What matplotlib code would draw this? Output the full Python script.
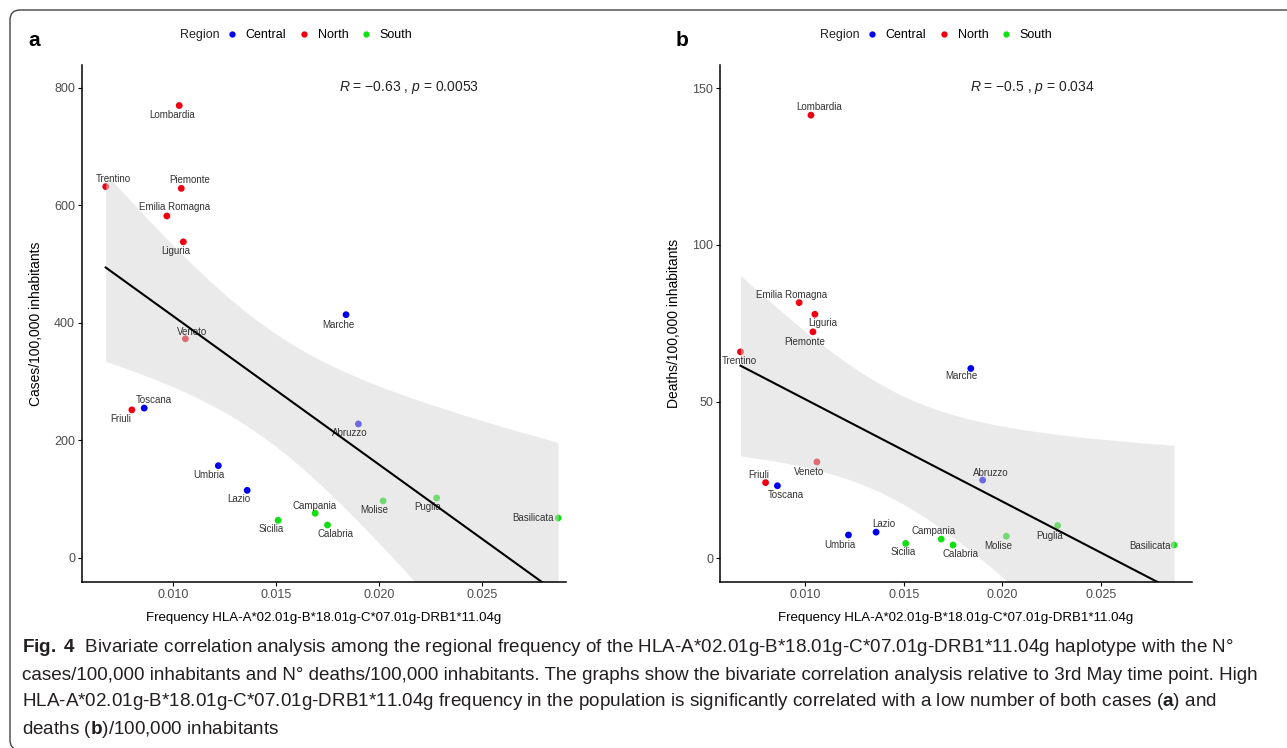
import numpy as np
import matplotlib.pyplot as plt
from matplotlib.patches import FancyBboxPatch
from matplotlib.lines import Line2D

plt.rcParams['font.family'] = ['Liberation Sans', 'DejaVu Sans']
plt.rcParams['mathtext.fontset'] = 'custom'
plt.rcParams['mathtext.rm'] = 'Liberation Sans'
plt.rcParams['mathtext.it'] = 'Liberation Sans:italic'
plt.rcParams['mathtext.bf'] = 'Liberation Sans:bold'

# regional data
regions = ['Lombardia', 'Trentino', 'Piemonte', 'Emilia Romagna', 'Liguria', 'Veneto', 'Friuli',
           'Marche', 'Toscana', 'Abruzzo', 'Umbria', 'Lazio',
           'Molise', 'Puglia', 'Campania', 'Sicilia', 'Calabria', 'Basilicata']
area = ['North'] * 7 + ['Central'] * 5 + ['South'] * 6
freq = [0.0103, 0.00673, 0.0104, 0.0097, 0.0105, 0.0106, 0.0080,
        0.0184, 0.0086, 0.0190, 0.0122, 0.0136,
        0.0202, 0.0228, 0.0169, 0.0151, 0.0175, 0.0287]
cases = [770, 632, 629, 582, 538, 373, 252,
         414, 255, 228, 157, 115,
         97, 102, 76, 64, 56, 68]
deaths = [141.4, 65.9, 72.3, 81.6, 77.9, 30.8, 24.2,
          60.6, 23.2, 25.0, 7.5, 8.4,
          7.1, 10.5, 6.2, 4.8, 4.3, 4.3]

area_names = ['Central', 'North', 'South']
area_colors = {'Central': '#0000F0', 'North': '#EE0010', 'South': '#10E010'}

stats_a = r'$\mathit{R}$ = −0.63 , $\mathit{p}$ = 0.0053'
stats_b = r'$\mathit{R}$ = −0.5 , $\mathit{p}$ = 0.034'

# label offsets in pixels (dx right, dy down) -- mimic ggrepel placement
offs_a = [(-7, 9), (8, -8), (8, -8), (8, -9), (-8, 9), (7, -7), (-11, 9),
          (-8, 10), (10, -8), (-9, 9), (-9, 9), (-8, 9),
          (-9, 9), (-9, 9), (-1, -7), (-7, 9), (8, 9), (-25, 0)]
offs_b = [(8, -8), (-1, 9), (-8, 10), (-8, -8), (8, 9), (-8, 10), (-7, -8),
          (-9, 8), (8, 9), (8, -7), (-9, 10), (8, -8),
          (-8, 10), (-8, 10), (-8, -8), (-2, 9), (7, 9), (-24, 1)]


def lm_band(x, y, xs, t=2.1199):
    # linear fit with 95% confidence band (like geom_smooth(method='lm'))
    b, a = np.polyfit(x, y, 1)
    n = len(x)
    s = np.sqrt(np.sum((y - (a + b * x)) ** 2) / (n - 2))
    se = s * np.sqrt(1 / n + (xs - x.mean()) ** 2 / np.sum((x - x.mean()) ** 2))
    yhat = a + b * xs
    return yhat, yhat - t * se, yhat + t * se


fig = plt.figure(figsize=(12.87, 7.48), dpi=100)

# rounded frame around the figure
frame = FancyBboxPatch((0.10, -0.02), 13.5, 7.40, boxstyle='round,pad=0,rounding_size=0.10',
                       transform=fig.dpi_scale_trans, facecolor='none', edgecolor='#444444',
                       linewidth=1.0, zorder=0)
fig.patches.append(frame)


def panel(rect, yvals, offs, ylim, xlim, yticks, ylabel, stats, letter, letter_x, leg_x):
    ax = fig.add_axes(rect)
    x = np.array(freq)
    y = np.array(yvals, dtype=float)
    cols = [area_colors[a] for a in area]
    ax.scatter(x, y, s=24, c=cols, linewidths=0, zorder=2)
    xs = np.linspace(x.min(), x.max(), 200)
    yhat, lo, hi = lm_band(x, y, xs)
    ax.fill_between(xs, lo, hi, color='#d6d6d6', alpha=0.5, linewidth=0, zorder=3)
    for name, xi, yi, (dx, dy) in zip(regions, x, y, offs):
        ax.annotate(name, (xi, yi), xytext=(dx * 0.72, -dy * 0.72), textcoords='offset points',
                    ha='center', va='center', fontsize=7, color='#333333', zorder=4)
    ax.plot(xs, yhat, color='black', linewidth=1.5, zorder=5)

    ax.set_xlim(*xlim)
    ax.set_ylim(*ylim)
    ax.set_xticks([0.010, 0.015, 0.020, 0.025])
    ax.set_xticklabels(['0.010', '0.015', '0.020', '0.025'])
    ax.set_yticks(yticks)
    for sp in ['top', 'right']:
        ax.spines[sp].set_visible(False)
    for sp in ['left', 'bottom']:
        ax.spines[sp].set_linewidth(1.1)
        ax.spines[sp].set_zorder(6)
    ax.tick_params(direction='out', length=3, width=0.8, labelsize=9, labelcolor='#4D4D4D', pad=2)
    ax.set_xlabel('Frequency HLA-A*02.01g-B*18.01g-C*07.01g-DRB1*11.04g', fontsize=9.5, labelpad=8)
    ax.set_ylabel(ylabel, fontsize=10, labelpad=8)
    ax.text(0.53, 1 - (88 - 65) / 517, stats, transform=ax.transAxes, fontsize=10,
            ha='left', va='center', color='#222222')

    fig.text(letter_x, 1 - 40 / 748, letter, fontsize=15, fontweight='bold', ha='left', va='center')

    # legend strip above the panel
    fig.text(leg_x / 1287, 1 - 35 / 748, 'Region', fontsize=9, ha='left', va='center', color='#222222')
    handles = [Line2D([], [], marker='o', ls='', color=area_colors[n], markersize=3.5) for n in area_names]
    fig.legend(handles, area_names, loc='center left', ncol=3, frameon=False,
               bbox_to_anchor=((leg_x + 47) / 1287, 1 - 35 / 748), bbox_transform=fig.transFigure,
               fontsize=9, handlelength=0.8, handletextpad=0.7, columnspacing=1.0,
               borderpad=0, borderaxespad=0)
    return ax


panel([82 / 1287, 166 / 748, 484 / 1287, 517 / 748], cases, offs_a, (-41, 839),
      (0.00558, 0.02908), [0, 200, 400, 600, 800], 'Cases/100,000 inhabitants',
      stats_a, 'a', 28 / 1287, 180)
panel([720 / 1287, 166 / 748, 472 / 1287, 517 / 748], deaths, offs_b, (-7.5, 157.4),
      (0.00569, 0.02961), [0, 50, 100, 150], 'Deaths/100,000 inhabitants',
      stats_b, 'b', 676 / 1287, 820)

caption = [
    r'$\mathbf{Fig.\ 4}$  Bivariate correlation analysis among the regional frequency of the '
    r'HLA-A*02.01g-B*18.01g-C*07.01g-DRB1*11.04g haplotype with the N°',
    'cases/100,000 inhabitants and N° deaths/100,000 inhabitants. The graphs show the bivariate '
    'correlation analysis relative to 3rd May time point. High',
    r'HLA-A*02.01g-B*18.01g-C*07.01g-DRB1*11.04g frequency in the population is significantly '
    r'correlated with a low number of both cases ($\mathbf{a}$) and',
    r'deaths ($\mathbf{b}$)/100,000 inhabitants',
]
for i, line in enumerate(caption):
    fig.text(22 / 1287, 1 - (648 + 27 * i) / 748, line, fontsize=13.6,
             ha='left', va='center', color='#231F20')

fig.savefig('out.png', dpi=100)
